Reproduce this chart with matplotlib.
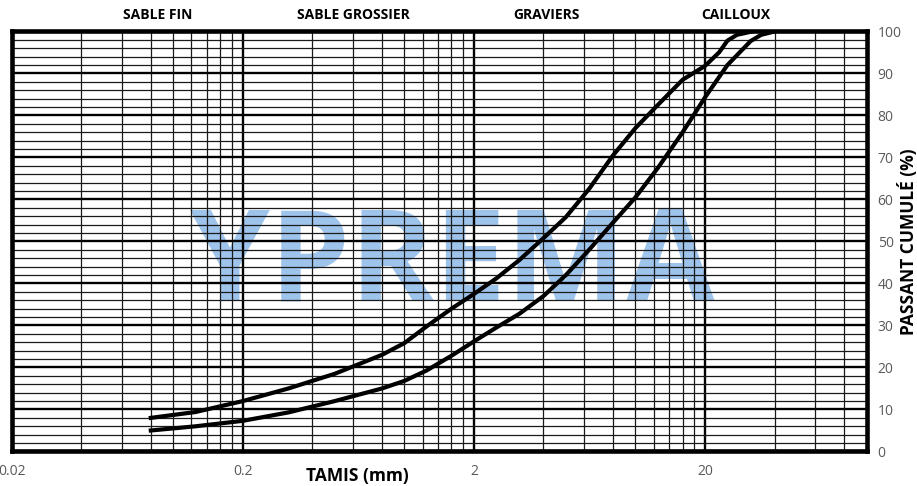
import matplotlib
matplotlib.use("Agg")
import matplotlib.pyplot as plt
from matplotlib.ticker import FixedLocator, NullFormatter
import matplotlib.transforms as mtransforms

# courbe granulométrique - fuseau (deux courbes enveloppes)
tamis_haut = [0.08, 0.125, 0.2, 0.315, 0.5, 0.8, 1.0, 1.25, 1.6, 2.0, 2.5,
              3.15, 4.0, 5.0, 6.3, 8.0, 10.0, 12.5, 16.0, 20.0, 23.0, 25.0,
              27.5, 32.0]
passant_haut = [8.0, 9.4, 12.0, 15.0, 18.5, 23.0, 25.8, 29.8, 34.0, 37.5,
                41.2, 45.6, 50.8, 55.8, 62.5, 70.5, 77.0, 82.5, 88.5, 91.8,
                95.0, 97.8, 99.2, 100.0]

tamis_bas = [0.08, 0.125, 0.2, 0.315, 0.5, 0.8, 1.0, 1.25, 1.6, 2.0, 2.5,
             3.15, 4.0, 5.0, 6.3, 8.0, 10.0, 12.5, 16.0, 20.0, 25.0, 31.5,
             35.0, 40.0]
passant_bas = [5.0, 6.0, 7.3, 9.3, 12.0, 15.0, 16.8, 19.3, 22.8, 26.2, 29.5,
               32.8, 37.0, 42.0, 48.0, 54.5, 60.5, 67.5, 76.0, 84.3, 92.0,
               97.7, 99.2, 100.0]

x_major = [0.02, 0.2, 2, 20]
x_labels = ["0.02", "0.2", "2", "20"]
y_ticks = list(range(0, 101, 10))

zones = ["SABLE FIN", "SABLE GROSSIER", "GRAVIERS", "CAILLOUX"]
zones_x = [0.086, 0.60, 4.14, 27.1]

plt.rcParams['font.family'] = ['Open Sans', 'DejaVu Sans']

fig = plt.figure(figsize=(9.17, 4.86), dpi=100)
ax = fig.add_axes([0.0127, 0.071, 0.9323, 0.8643])

ax.set_xscale('log')
ax.set_xlim(0.02, 100)
ax.set_ylim(0, 100)

# grille : 2, 3, ... 9 fois chaque décade
minor_x = []
for dec in x_major:
    for k in range(2, 10):
        v = dec * k
        if v < 100:
            minor_x.append(v)
ax.xaxis.set_major_locator(FixedLocator(x_major))
ax.xaxis.set_minor_locator(FixedLocator(minor_x))
ax.xaxis.set_minor_formatter(NullFormatter())
ax.set_xticklabels(x_labels)
ax.yaxis.set_major_locator(FixedLocator(y_ticks))
ax.yaxis.set_minor_locator(FixedLocator(list(range(2, 100, 2))))

ax.grid(which='major', color='black', linewidth=1.7)
ax.grid(which='minor', color='#1a1a1a', linewidth=0.9)

ax.yaxis.tick_right()
ax.tick_params(which='both', length=0)
ax.tick_params(axis='x', pad=9, labelsize=10, labelcolor='#595959')
ax.tick_params(axis='y', pad=8, labelsize=10, labelcolor='#595959')

for s in ax.spines.values():
    s.set_linewidth(3.3)
    s.set_color('black')

# filigrane
ax.text(0.515, 0.36, "YPREMA", transform=ax.transAxes, ha='center', va='baseline',
        fontsize=92, fontweight='bold', color='#9EC4EC', zorder=0.5)

ax.plot(tamis_haut, passant_haut, color='black', linewidth=3.0, zorder=3)
ax.plot(tamis_bas, passant_bas, color='black', linewidth=3.0, zorder=3)

trans = mtransforms.blended_transform_factory(ax.transData, ax.transAxes)
for nom, xz in zip(zones, zones_x):
    ax.text(xz, 1.039, nom, transform=trans, ha='center', va='center',
            fontsize=10, fontweight='bold', color='black')

ax.text(0.628, -0.058, "TAMIS (mm)", transform=trans, ha='center', va='center',
        fontsize=12.5, fontweight='bold', color='black')
ax.text(1.0486, 0.50, "PASSANT CUMULÉ (%)", transform=ax.transAxes, rotation=90,
        ha='center', va='center', fontsize=12.5, fontweight='bold', color='black')

fig.savefig("out.png", dpi=100)
